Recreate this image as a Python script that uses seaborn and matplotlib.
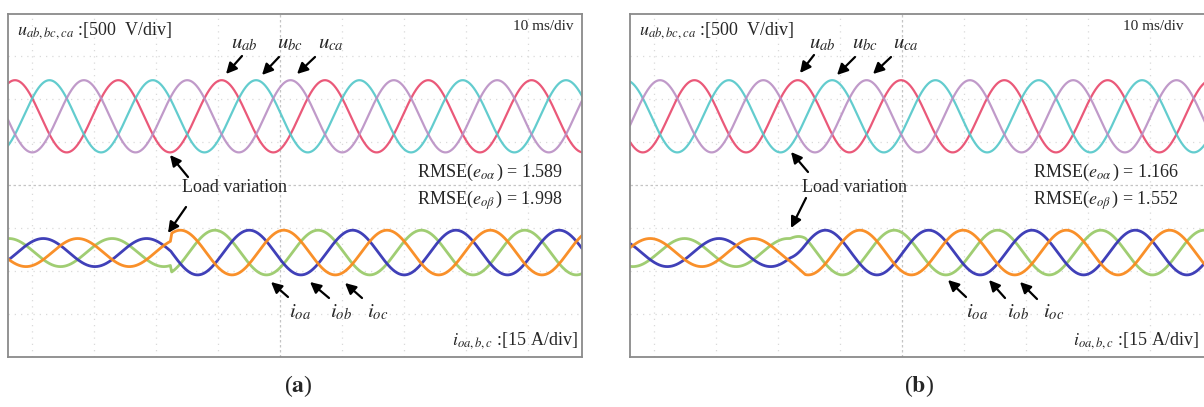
import numpy as np
import pandas as pd
import matplotlib
matplotlib.use("Agg")
import matplotlib.pyplot as plt
import seaborn as sns

# scope settings
V_DIV = 500.0      # V/div
A_DIV = 15.0       # A/div
F_GRID = 60.0      # Hz
T_LEFT, T_RIGHT_A, T_RIGHT_B = -3.9, 88.7, 89.2   # ms visible on screen

# voltage traces (same in both panels, only phase differs)
volt_amp = 420.0          # V peak
volt_offset = 1.6         # div above centre line
volt_peak_ms = {"a": 13.9, "b": 6.5}      # u_ab peak time

# load currents, amplitude before / after the load step
curr_amp_pre = 4.9        # A peak
curr_amp_post = 7.8       # A peak
curr_offset = -1.57       # div
curr_peak_pre_ms = {"a": 12.9, "b": 4.9}  # i_oa peak time before step
curr_peak_post_ms = {"a": 12.8, "b": 5.4}
load_step_ms = {"a": 22.3, "b": 21.9}
step_len_ms = {"a": 0.2, "b": 2.5}        # how long the change takes

rmse_alpha = {"a": "1.589", "b": "1.166"}
rmse_beta = {"a": "1.998", "b": "1.552"}

volt_names = ["u_ab", "u_bc", "u_ca"]
curr_names = ["i_oa", "i_ob", "i_oc"]
volt_colors = ["#e8476b", "#52c7c9", "#b98fc4"]
curr_colors = ["#9bcb6b", "#3535b4", "#f98a1e"]


def panel_frame(key, t_right):
    t = np.linspace(T_LEFT, t_right, 2500)
    w = 2 * np.pi * F_GRID / 1000.0
    rows = []
    for k, name in enumerate(volt_names):
        v = volt_offset + volt_amp / V_DIV * np.cos(w * (t - volt_peak_ms[key]) - k * 2 * np.pi / 3)
        rows.append(pd.DataFrame({"t": t, "y": v, "sig": name, "kind": "u"}))
    mix = np.clip((t - load_step_ms[key]) / step_len_ms[key], 0, 1)
    for k, name in enumerate(curr_names):
        i_pre = curr_amp_pre * np.cos(w * (t - curr_peak_pre_ms[key]) - k * 2 * np.pi / 3)
        i_post = curr_amp_post * np.cos(w * (t - curr_peak_post_ms[key]) - k * 2 * np.pi / 3)
        i = (1 - mix) * i_pre + mix * i_post
        rows.append(pd.DataFrame({"t": t, "y": curr_offset + i / A_DIV, "sig": name, "kind": "i"}))
    return pd.concat(rows, ignore_index=True)


sns.set_style("white")
plt.rcParams["font.family"] = ["Liberation Serif", "DejaVu Serif"]
plt.rcParams["mathtext.fontset"] = "stix"

W, H = 1204, 407
fig = plt.figure(figsize=(W / 100, H / 100), dpi=100)


def fx(x, y):
    return (x / W, 1 - y / H)


panels = {
    "a": dict(left=8, right=582, t_right=T_RIGHT_A),
    "b": dict(left=630, right=1207, t_right=T_RIGHT_B),
}

for key, p in panels.items():
    ax = fig.add_axes([p["left"] / W, 1 - 357 / H, (p["right"] - p["left"]) / W, 343 / H])
    df = panel_frame(key, p["t_right"])
    # grid like the scope screen
    for g in range(0, 90, 10):
        ax.axvline(g, color="#dadada" if g != 40 else "#c4c4c4",
                   lw=0.9, ls=(0, (1, 4)) if g != 40 else (0, (2, 2)), zorder=0)
    for g in range(-3, 4):
        ax.axhline(g, color="#dadada" if g != 0 else "#c4c4c4",
                   lw=0.9, ls=(0, (1, 4)) if g != 0 else (0, (2, 2)), zorder=0)
    sns.lineplot(data=df[df.kind == "u"], x="t", y="y", hue="sig", hue_order=volt_names,
                 palette=volt_colors, linewidth=1.6, alpha=0.9, legend=False, ax=ax,
                 estimator=None, sort=False)
    sns.lineplot(data=df[df.kind == "i"], x="t", y="y", hue="sig", hue_order=curr_names,
                 palette=curr_colors, linewidth=2.0, alpha=0.95, legend=False, ax=ax,
                 estimator=None, sort=False)
    ax.set_xlim(T_LEFT, p["t_right"])
    ax.set_ylim(-4.0, 3.98)
    ax.set_xticks([])
    ax.set_yticks([])
    ax.set_xlabel("")
    ax.set_ylabel("")
    for s in ax.spines.values():
        s.set_color("#8a8a8a")
        s.set_linewidth(1.3)

arrow = dict(arrowstyle="-|>", color="black", lw=1.6, mutation_scale=16, shrinkA=0, shrinkB=0)


def arr(tail, head):
    fig.add_artist(matplotlib.patches.FancyArrowPatch(
        fx(*tail), fx(*head), transform=fig.transFigure, **arrow))


def txt(x, y, s, size, ha="center", **kw):
    fig.text(*fx(x, y), s, fontsize=size, ha=ha, va="center", **kw)


labels = {
    "a": dict(ulab=[244, 290, 331], uarr=[((242, 56), (226, 74)), ((279, 57), (262, 75)), ((315, 57), (297, 74))],
              lv=235, lvu=((188, 177), (170, 155)), lvi=((186, 207), (168, 233)),
              ilab=[300, 341, 378], iarr=[((288, 297), (271, 282)), ((329, 298), (310, 282)), ((362, 298), (345, 283))],
              rm=490, ms=543, ib=578, cap=298),
    "b": dict(ulab=[822, 865, 906], uarr=[((814, 55), (800, 73)), ((855, 57), (837, 75)), ((891, 57), (873, 74))],
              lv=855, lvu=((808, 172), (791, 152)), lvi=((806, 198), (791, 228)),
              ilab=[977, 1018, 1054], iarr=[((966, 297), (948, 280)), ((1005, 298), (989, 280)), ((1037, 299), (1020, 282))],
              rm=1106, ms=1153, ib=1199, cap=919),
}

for key, L in labels.items():
    x0 = panels[key]["left"]
    txt(x0 + 9, 31, r"$u_{ab,bc,ca}$ :[500  V/div]", 13, ha="left")
    txt(L["ms"], 26, "10 ms/div", 11)
    for x, s in zip(L["ulab"], [r"$u_{ab}$", r"$u_{bc}$", r"$u_{ca}$"]):
        txt(x, 44, s, 15)
    for tail, head in L["uarr"]:
        arr(tail, head)
    txt(L["lv"], 187, "Load variation", 13)
    arr(*L["lvu"])
    arr(*L["lvi"])
    txt(L["rm"], 172, r"RMSE($e_{o\alpha}\,$) = " + rmse_alpha[key], 13)
    txt(L["rm"], 200, r"RMSE($e_{o\beta}\,$) = " + rmse_beta[key], 13)
    for x, s in zip(L["ilab"], [r"$i_{oa}$", r"$i_{ob}$", r"$i_{oc}$"]):
        txt(x, 312, s, 15)
    for tail, head in L["iarr"]:
        arr(tail, head)
    txt(L["ib"], 341, r"$i_{oa,b,c}$ :[15 A/div]", 13, ha="right")
    txt(L["cap"], 386, "(" + r"$\mathbf{" + key + "}$" + ")", 17)

fig.savefig("out.png", dpi=100)
